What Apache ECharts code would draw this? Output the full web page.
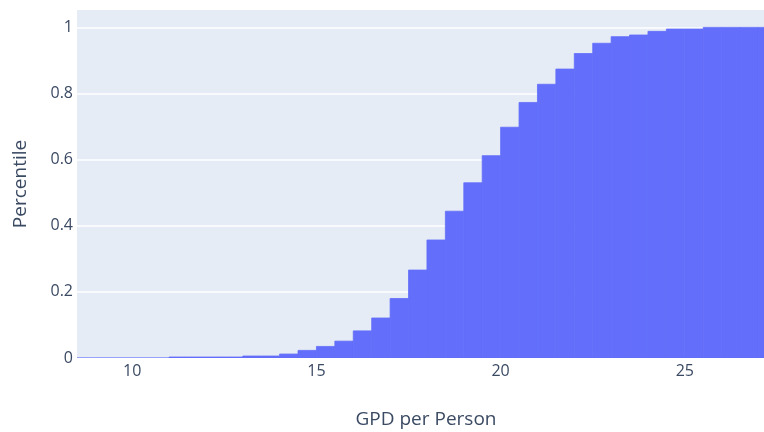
<!DOCTYPE html>
<html>
<head>
<meta charset="utf-8">
<script src="https://cdn.jsdelivr.net/npm/echarts@6/dist/echarts.min.js"></script>
<style>html,body{margin:0;padding:0;background:#fff;}#c{width:764px;height:432px;}</style>
</head>
<body>
<div id="c"></div>
<script>
// Histogram bins (start of each 0.5-wide bin) and cumulative fraction
const binStarts = [8.5, 9, 9.5, 10, 10.5, 11, 11.5, 12, 12.5, 13, 13.5, 14, 14.5, 15, 15.5, 16, 16.5, 17, 17.5, 18, 18.5, 19, 19.5, 20, 20.5, 21, 21.5, 22, 22.5, 23, 23.5, 24, 24.5, 25, 25.5, 26, 26.5, 27];
const binWidth = 0.5;
const cumulative = [0, 0, 0, 0, 0, 0.003, 0.003, 0.003, 0.003, 0.006, 0.006, 0.012, 0.023, 0.035, 0.051, 0.082, 0.121, 0.180, 0.266, 0.357, 0.444, 0.530, 0.612, 0.698, 0.773, 0.828, 0.874, 0.921, 0.952, 0.972, 0.977, 0.988, 0.995, 0.995, 1.0, 1.0, 1.0, 1.0];
const xTicks = [10, 15, 20, 25];
const yTicks = [0, 0.2, 0.4, 0.6, 0.8, 1];
const xTitle = 'GPD per Person';
const yTitle = 'Percentile';

const data = binStarts.map((s, i) => [s, s + binWidth, cumulative[i]]);
const font = '"Open Sans", "Noto Sans", sans-serif';
const txt = '#3b4a63';

const chart = echarts.init(document.getElementById('c'), null, {renderer: 'canvas'});
chart.setOption({
  animation: false,
  backgroundColor: '#ffffff',
  grid: {left: 77, right: 0, top: 10, bottom: 74, show: true, backgroundColor: '#E5ECF6', borderWidth: 0,
    containLabel: false, outerBoundsMode: 'none'},
  xAxis: {
    type: 'value', min: 8.5, max: 27.15,
    name: xTitle, nameLocation: 'middle', nameGap: 52,
    nameTextStyle: {color: txt, fontSize: 19, fontFamily: font, padding: [0, 0, 0, 11]},
    axisLine: {show: false}, axisTick: {show: false}, splitLine: {show: false},
    axisLabel: {color: txt, fontSize: 16, fontFamily: font, margin: 5, customValues: xTicks}
  },
  yAxis: {
    type: 'value', min: 0, max: 1.0526, interval: 0.2,
    name: yTitle, nameLocation: 'middle', nameGap: 47,
    nameTextStyle: {color: txt, fontSize: 19, fontFamily: font},
    axisLine: {show: false}, axisTick: {show: false},
    splitLine: {show: true, showMaxLine: false, lineStyle: {color: '#ffffff', width: 1.5}},
    axisLabel: {color: txt, fontSize: 16, fontFamily: font, margin: 4,
      formatter: v => {
        const m = yTicks.find(t => Math.abs(t - v) < 1e-6);
        return m === undefined ? '' : String(m);
      }}
  },
  series: [{
    type: 'custom',
    clip: true,
    data: data,
    encode: {x: [0, 1], y: 2},
    renderItem: function (params, api) {
      const p0 = api.coord([api.value(0), 0]);
      const p1 = api.coord([api.value(1), api.value(2)]);
      const rect = echarts.graphic.clipRectByRect({
        x: p0[0], y: p1[1], width: p1[0] - p0[0], height: p0[1] - p1[1]
      }, {x: params.coordSys.x, y: params.coordSys.y, width: params.coordSys.width, height: params.coordSys.height});
      if (!rect) return;
      return {type: 'rect', shape: rect, style: {fill: '#636EFA', stroke: '#636EFA', lineWidth: 0.8}};
    }
  }]
});
</script>
</body>
</html>
